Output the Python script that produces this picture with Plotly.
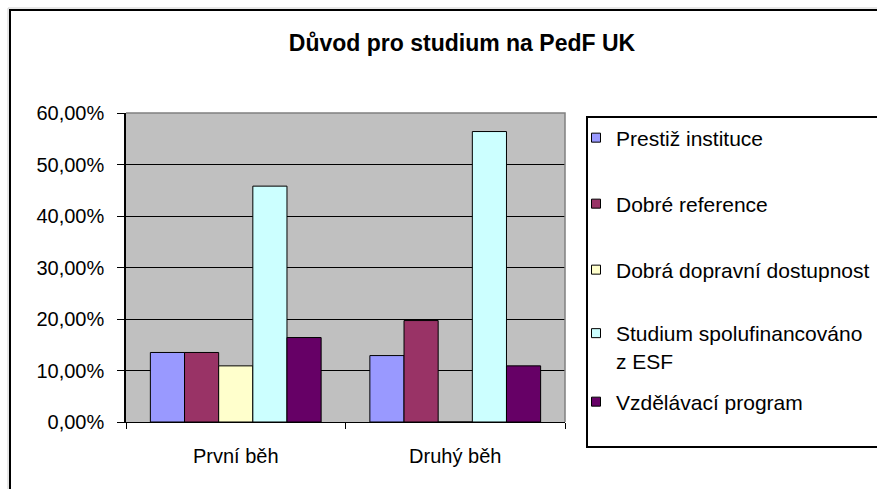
import plotly.graph_objects as go

categories = ["První běh", "Druhý běh"]
series_names = [
    "Prestiž instituce",
    "Dobré reference",
    "Dobrá dopravní dostupnost",
    "Studium spolufinancováno<br>z ESF",
    "Vzdělávací program",
]
prestiz = [0.135, 0.129]
reference = [0.135, 0.197]
doprava = [0.109, 0.0]
esf = [0.458, 0.564]
program = [0.164, 0.109]
values = [prestiz, reference, doprava, esf, program]
colors = ["#9999FF", "#993366", "#FFFFCC", "#CCFFFF", "#660066"]
y_ticks = [0, 0.1, 0.2, 0.3, 0.4, 0.5, 0.6]

FONT = "Arial, 'Liberation Sans', sans-serif"

fig = go.Figure()
for name, vals, col in zip(series_names, values, colors):
    fig.add_trace(go.Bar(
        x=categories, y=vals, name=name, marker_color=col,
        marker_line=dict(color="black", width=1), showlegend=False,
    ))

# legend entries (small square markers)
legend_ids = ["legend", "legend2", "legend3", "legend4", "legend5"]
for name, col, lid in zip(series_names, colors, legend_ids):
    fig.add_trace(go.Scatter(
        x=[None], y=[None], mode="markers", name=name,
        marker=dict(symbol="square", size=9, color=col, line=dict(color="black", width=1)),
        legend=lid, showlegend=True,
    ))

L, R, T, B = 126, 565, 113, 422
W, H = 877, 489
pw, ph = R - L, B - T

def px_x(x):
    return (x - L) / pw

def px_y(y):
    return (B - y) / ph

legend_centers = [138, 204, 270, 347, 402]
leg_x = px_x(576)
leg_common = dict(font=dict(family=FONT, size=21, color="black"), bgcolor="rgba(0,0,0,0)",
                  borderwidth=0, xanchor="left", yanchor="middle", x=leg_x, valign="top",
                  itemclick=False, itemdoubleclick=False)
layout_legends = {}
for lid, yc in zip(legend_ids, legend_centers):
    layout_legends[lid] = dict(leg_common, y=px_y(yc))

# open paths (edges running off the canvas are left open)
lx0, lx1, ly0, ly1 = px_x(587), px_x(900), px_y(447), px_y(117)
legend_box = f"M {lx1},{ly0} L {lx0},{ly0} L {lx0},{ly1} L {lx1},{ly1}"
fx0, fx1, fy0, fy1 = px_x(10), px_x(920), px_y(520), px_y(10)
frame_path = f"M {fx0},{fy0} L {fx0},{fy1} L {fx1},{fy1}"

fig.update_layout(
    width=W, height=H,
    margin=dict(l=L, r=W - R, t=T, b=H - B, pad=0, autoexpand=False),
    paper_bgcolor="white", plot_bgcolor="#C0C0C0",
    barmode="group", bargap=0.222, bargroupgap=0,
    separators=", ",
    font=dict(family=FONT, color="black"),
    title=dict(text="<b>Důvod pro studium na PedF UK</b>", xref="container", x=462 / W,
               xanchor="center", yref="container", y=1 - 43 / H, yanchor="middle",
               font=dict(family=FONT, size=23, color="black")),
    xaxis=dict(showgrid=False, showline=True, linecolor="black", linewidth=1,
               ticks="outside", tickson="boundaries", ticklen=6, tickcolor="black",
               tickfont=dict(family=FONT, size=20, color="black"), ticklabelstandoff=16),
    yaxis=dict(range=[0, 0.6], tickvals=y_ticks, tickformat=".2%", showgrid=True,
               gridcolor="black", gridwidth=1.2, showline=True, linecolor="black", linewidth=1.5,
               ticks="outside", ticklen=7, tickcolor="black", zeroline=False,
               tickfont=dict(family=FONT, size=20, color="black"), ticklabelstandoff=9),
    shapes=[
        # gray plot-area border (top and right)
        dict(type="path", xref="paper", yref="paper", path="M 0,1 L 1,1 L 1,0",
             line=dict(color="#808080", width=1.5), layer="above"),
        # legend box
        dict(type="path", xref="paper", yref="paper", path=legend_box,
             line=dict(color="black", width=2)),
        # outer chart frame (light shadow line, then black line)
        dict(type="path", xref="paper", yref="paper",
             path=f"M {px_x(8)},{fy0} L {px_x(8)},{px_y(8)} L {fx1},{px_y(8)}",
             line=dict(color="#D0D0D0", width=1)),
        dict(type="path", xref="paper", yref="paper", path=frame_path,
             line=dict(color="black", width=2)),
    ],
    **layout_legends,
)

fig.write_html("out.html", config={"displayModeBar": False},
               post_script="document.body.style.margin='0';")
